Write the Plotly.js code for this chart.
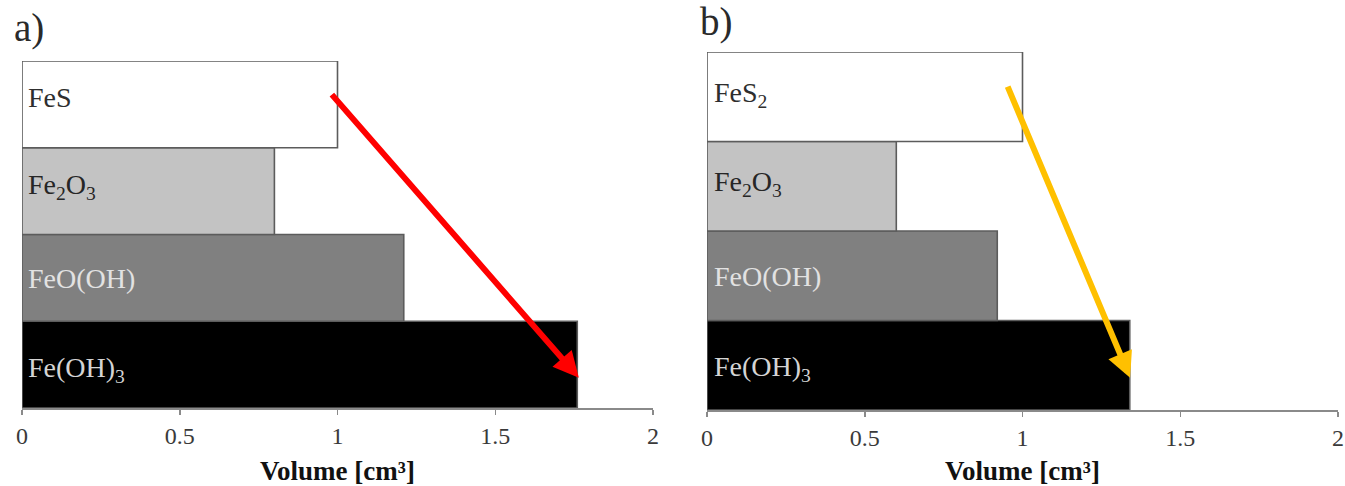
<!DOCTYPE html>
<html>
<head>
<meta charset="utf-8">
<script src="https://cdn.plot.ly/plotly-3.0.1.min.js"></script>
<style>html,body{margin:0;padding:0;background:#fff;}#chart{width:1345px;height:486px;}</style>
</head>
<body>
<div id="chart"></div>
<script>
// ---- data ----
const catsA = ['Fe(OH)3', 'FeO(OH)', 'Fe2O3', 'FeS'];
const labelsA = ['Fe(OH)<sub>3</sub>', 'FeO(OH)', 'Fe<sub>2</sub>O<sub>3</sub>', 'FeS'];
const valuesA = [1.76, 1.21, 0.80, 1.00];

const catsB = ['Fe(OH)3', 'FeO(OH)', 'Fe2O3', 'FeS2'];
const labelsB = ['Fe(OH)<sub>3</sub>', 'FeO(OH)', 'Fe<sub>2</sub>O<sub>3</sub>', 'FeS<sub>2</sub>'];
const valuesB = [1.34, 0.92, 0.60, 1.00];

const tickVals = [0, 0.5, 1, 1.5, 2];
const tickText = ['0', '0.5', '1', '1.5', '2'];
const axisTitle = 'Volume [cm³]';
const panelTags = ['a)', 'b)'];

// arrow endpoints (x value, y category index) : tail -> head
const arrowA = {tail: [0.978, 3.13], head: [1.765, -0.15]};
const arrowB = {tail: [0.951, 3.13], head: [1.341, -0.14]};

// ---- style ----
const barColors = ['#000000', '#808080', '#c3c3c3', '#ffffff'];
const labelColors = ['#d4d4d4', '#e2e2e2', '#262626', '#2e2e2e'];
const labelShiftA = [-5, -1, 5, 7];
const labelShiftB = [-3, -1, 3, 2];
const serif = 'Liberation Serif';

const traces = [
  {type: 'bar', orientation: 'h', x: valuesA, y: catsA, xaxis: 'x', yaxis: 'y',
   marker: {color: barColors, line: {color: '#5c5c5c', width: 1.6}}, hoverinfo: 'x+y'},
  {type: 'bar', orientation: 'h', x: valuesB, y: catsB, xaxis: 'x2', yaxis: 'y2',
   marker: {color: barColors, line: {color: '#5c5c5c', width: 1.6}}, hoverinfo: 'x+y'}
];

function xaxisDef(domain) {
  return {
    domain: domain, range: [0, 2], tickvals: tickVals, ticktext: tickText,
    showgrid: false, zeroline: false, showline: true, linecolor: '#8a8a8a', linewidth: 2,
    ticks: 'outside', ticklen: 5, tickwidth: 1.5, tickcolor: '#8a8a8a',
    ticklabelstandoff: 0,
    tickfont: {family: serif, size: 24, color: '#3a3a3a'},
    title: {text: axisTitle, standoff: 14, font: {family: serif, size: 27, color: '#111', weight: 'bold'}},
    fixedrange: true
  };
}
function yaxisDef(domain, cats, anchor) {
  return {
    domain: domain, type: 'category', categoryorder: 'array', categoryarray: cats,
    range: [-0.5, 3.5], showticklabels: false, showgrid: false, zeroline: false,
    showline: false, ticks: '', anchor: anchor, fixedrange: true
  };
}

const annotations = [];
catsA.forEach((c, i) => annotations.push({
  xref: 'x', yref: 'y', x: 0, y: c, text: labelsA[i], showarrow: false,
  xanchor: 'left', yanchor: 'middle', xshift: 4, yshift: labelShiftA[i],
  font: {family: serif, size: 28, color: labelColors[i]}
}));
catsB.forEach((c, i) => annotations.push({
  xref: 'x2', yref: 'y2', x: 0, y: c, text: labelsB[i], showarrow: false,
  xanchor: 'left', yanchor: 'middle', xshift: 5, yshift: labelShiftB[i],
  font: {family: serif, size: 28, color: labelColors[i]}
}));
annotations.push({
  xref: 'x', yref: 'y', axref: 'x', ayref: 'y',
  x: arrowA.head[0], y: arrowA.head[1], ax: arrowA.tail[0], ay: arrowA.tail[1],
  showarrow: true, arrowhead: 2, arrowsize: 0.85, arrowwidth: 6, arrowcolor: '#ff0000', text: ''
});
annotations.push({
  xref: 'x2', yref: 'y2', axref: 'x2', ayref: 'y2',
  x: arrowB.head[0], y: arrowB.head[1], ax: arrowB.tail[0], ay: arrowB.tail[1],
  showarrow: true, arrowhead: 2, arrowsize: 0.85, arrowwidth: 6, arrowcolor: '#ffc000', text: ''
});
annotations.push({xref: 'paper', yref: 'paper', x: 12 / 1345, y: 1 - 4 / 486, xanchor: 'left', yanchor: 'top',
  text: panelTags[0], showarrow: false, font: {family: serif, size: 39, color: '#2a2a2a'}});
annotations.push({xref: 'paper', yref: 'paper', x: 698 / 1345, y: 1 + 2 / 486, xanchor: 'left', yanchor: 'top',
  text: panelTags[1], showarrow: false, font: {family: serif, size: 39, color: '#2a2a2a'}});

const layout = {
  width: 1345, height: 486, margin: {l: 0, r: 0, t: 0, b: 0},
  paper_bgcolor: '#ffffff', plot_bgcolor: 'rgba(0,0,0,0)',
  font: {family: serif},
  showlegend: false, bargap: 0,
  xaxis: xaxisDef([22 / 1345, 653 / 1345]),
  yaxis: yaxisDef([1 - 408 / 486, 1 - 61 / 486], catsA, 'x'),
  xaxis2: Object.assign(xaxisDef([707 / 1345, 1338 / 1345]), {anchor: 'y2'}),
  yaxis2: yaxisDef([1 - 410 / 486, 1 - 52 / 486], catsB, 'x2'),
  annotations: annotations
};
layout.xaxis.anchor = 'y';

Plotly.newPlot('chart', traces, layout, {displayModeBar: false, staticPlot: true});
</script>
</body>
</html>
